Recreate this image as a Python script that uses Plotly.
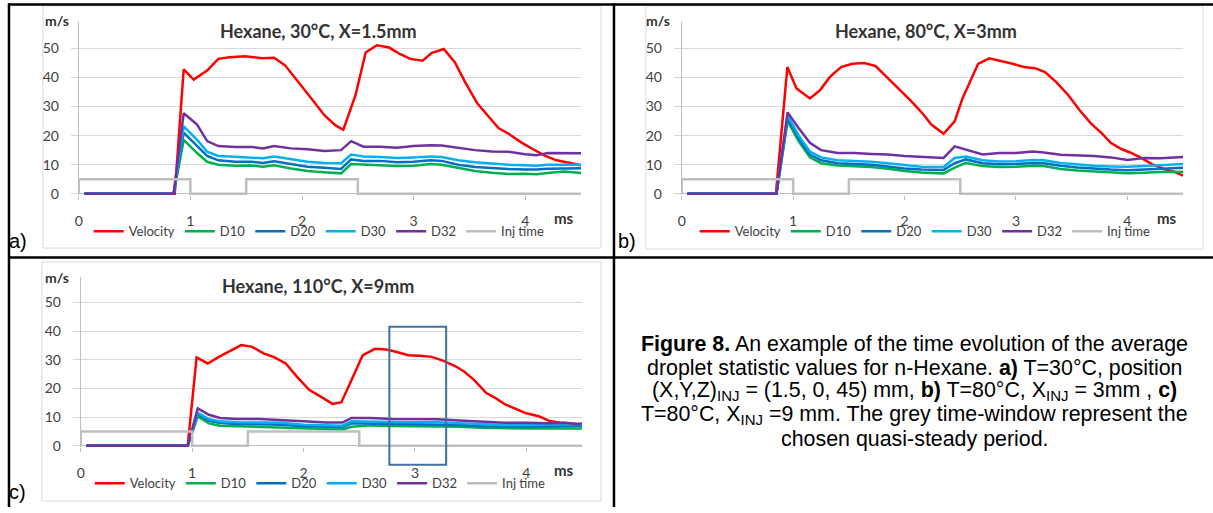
import plotly.graph_objects as go

W, H = 1213, 513

# ---------------- data ----------------
series_names = ["Velocity", "D10", "D20", "D30", "D32", "Inj time"]
series_colors = ["#ff0000", "#00b050", "#0070c0", "#00b0f0", "#7030a0", "#bfbfbf"]
titles = ["Hexane, 30°C, X=1.5mm", "Hexane, 80°C, X=3mm", "Hexane, 110°C, X=9mm"]
x_ticks = [0, 1, 2, 3, 4]
y_ticks = [0, 10, 20, 30, 40, 50]

# injection window (common)
t_inj = [0, 0, 1, 1, 1.5, 1.5, 2.5, 2.5, 4.5]
inj = [0, 5, 5, 0, 0, 5, 5, 0, 0]

# panel a
t_vel_a = [0.05, 0.86, 0.94, 1.03, 1.15, 1.25, 1.35, 1.49, 1.64, 1.75, 1.85, 2.0, 2.1, 2.2, 2.3, 2.37,
           2.48, 2.57, 2.67, 2.78, 2.88, 2.97, 3.08, 3.16, 3.27, 3.37, 3.46, 3.57, 3.67, 3.76, 3.86,
           3.97, 4.07, 4.18, 4.28, 4.41, 4.5]
vel_a = [0, 0, 42.8, 39.3, 42.4, 46.4, 47, 47.3, 46.6, 46.8, 44.1, 37, 32, 27, 23.5, 22,
         34, 48.6, 51.1, 50.3, 48, 46.4, 45.8, 48.4, 49.8, 45.2, 38.5, 31.1, 26.6, 22.6, 20.4,
         17.5, 15.3, 13, 11.5, 10.5, 9.8]
t_d_a = [0.05, 0.85, 0.94, 1.06, 1.15, 1.25, 1.4, 1.55, 1.65, 1.75, 1.9, 2.05, 2.2, 2.35, 2.44,
         2.55, 2.7, 2.85, 3.0, 3.15, 3.25, 3.4, 3.55, 3.7, 3.85, 4.0, 4.1, 4.2, 4.35, 4.5]
d10_a = [0, 0, 18.5, 14, 11, 10, 9.6, 9.7, 9.3, 9.8, 8.7, 7.8, 7.4, 7, 10.2,
         10, 9.9, 9.5, 9.6, 10.2, 10, 8.8, 7.8, 7.2, 6.8, 6.9, 6.7, 7.1, 7.6, 7.1]
d20_a = [0, 0, 21, 16.5, 13, 11.5, 11, 11, 10.6, 11.2, 10.2, 9.3, 8.9, 8.5, 11.8,
         11.3, 11.3, 10.8, 11, 11.5, 11.3, 10, 9.2, 8.8, 8.5, 8.3, 8.3, 8.6, 8.8, 8.8]
d30_a = [0, 0, 23.2, 18.5, 14.5, 13, 12.7, 12.5, 12.2, 12.8, 11.8, 11, 10.6, 10.5, 13.5,
         12.8, 12.6, 12.3, 12.5, 12.8, 12.6, 11.5, 10.8, 10.3, 10, 9.8, 9.6, 10, 10, 10]
d32_a = [0, 0, 27.7, 23.8, 18.1, 16.4, 16.1, 16.1, 15.6, 16.4, 15.6, 15.3, 14.7, 15, 18.1,
         16.2, 16.2, 15.8, 16.4, 16.7, 16.6, 15.8, 15, 14.5, 14.4, 13.6, 13.2, 14, 13.9, 13.9]

# panel b
t_vel_b = [0.05, 0.845, 0.948, 1.03, 1.15, 1.24, 1.33, 1.43, 1.53, 1.64, 1.74, 1.84, 1.95, 2.05,
           2.16, 2.24, 2.35, 2.45, 2.52, 2.59, 2.66, 2.76, 2.86, 2.97, 3.07, 3.17, 3.26, 3.36,
           3.47, 3.57, 3.67, 3.78, 3.85, 3.95, 4.03, 4.12, 4.22, 4.33, 4.43, 4.5]
vel_b = [0, 0, 43.6, 36.2, 32.8, 35.6, 40.2, 43.6, 44.7, 45, 43.9, 40.2, 36.2, 32.2,
         27.7, 23.8, 20.6, 24.9, 32.8, 38.5, 44.7, 46.6, 45.8, 44.7, 43.6, 43.2, 41.9, 38.5,
         33.9, 28.8, 24.3, 20.4, 17.5, 15.3, 14.1, 12.4, 10.2, 8.5, 7.4, 6.2]
t_d_b = [0.05, 0.85, 0.95, 1.05, 1.15, 1.25, 1.4, 1.55, 1.7, 1.85, 2.0, 2.15, 2.35, 2.45,
         2.55, 2.7, 2.85, 3.0, 3.15, 3.25, 3.4, 3.55, 3.7, 3.85, 4.0, 4.15, 4.3, 4.5]
d10_b = [0, 0, 25, 18, 12.5, 10.5, 9.7, 9.5, 9.2, 8.6, 7.8, 7.3, 7, 9,
         10.6, 9.5, 9.2, 9.3, 9.6, 9.5, 8.5, 8, 7.6, 7.3, 7, 7.2, 7.5, 7.6]
d20_b = [0, 0, 26, 19, 13.5, 11.5, 10.5, 10.3, 10, 9.4, 8.7, 8.3, 8.2, 10.5,
         11.8, 10.5, 10.1, 10.2, 10.6, 10.5, 9.6, 9, 8.6, 8.3, 8.1, 8.3, 8.6, 8.9]
d30_b = [0, 0, 27, 20, 14.5, 12.5, 11.5, 11.3, 11, 10.5, 9.8, 9.3, 9.2, 12.3,
         12.8, 11.5, 11.1, 11.2, 11.6, 11.5, 10.6, 10, 9.6, 9.4, 9.3, 9.5, 9.8, 10.2]
d32_b = [0, 0, 28, 22.5, 17.5, 15, 14, 14, 13.7, 13.5, 13, 12.6, 12.3, 16.3,
         15.2, 13.5, 14, 14, 14.5, 14.2, 13.4, 13.3, 13, 12.5, 11.6, 12.3, 12.2, 12.6]

# panel c
t_vel_c = [0.05, 0.96, 1.04, 1.14, 1.24, 1.35, 1.44, 1.54, 1.64, 1.73, 1.84, 1.94, 2.05, 2.15,
           2.26, 2.34, 2.43, 2.53, 2.64, 2.74, 2.83, 2.94, 3.04, 3.15, 3.25, 3.36, 3.44, 3.53,
           3.64, 3.72, 3.81, 3.92, 4.0, 4.11, 4.21, 4.3, 4.41, 4.5]
vel_c = [0, 0, 30.8, 28.7, 31, 33.3, 35.1, 34.5, 32.2, 31, 28.7, 24.1, 19.5, 17.2,
         14.6, 15.2, 23, 31.5, 33.8, 33.6, 32.8, 31.6, 31.4, 31, 29.7, 27.8, 25.9, 23,
         18.4, 16.7, 14.4, 12.6, 11.3, 10.3, 8.6, 8, 7.8, 7.5]
t_d_c = [0.05, 0.96, 1.05, 1.15, 1.25, 1.4, 1.6, 1.8, 2.0, 2.2, 2.35, 2.43, 2.6, 2.8, 3.0,
         3.2, 3.4, 3.6, 3.8, 4.0, 4.2, 4.35, 4.45, 4.5]
d10_c = [0, 0, 10.2, 7.8, 7, 6.8, 6.7, 6.5, 6, 5.8, 5.7, 6.6, 7.1, 6.9, 6.8,
         6.8, 6.6, 6.3, 6.1, 6, 6, 6, 6, 6]
d20_c = [0, 0, 11, 8.7, 7.9, 7.6, 7.5, 7.3, 6.8, 6.6, 6.5, 7.8, 7.7, 7.6, 7.5,
         7.5, 7.2, 6.8, 6.6, 6.6, 6.7, 6.8, 6.9, 7]
d30_c = [0, 0, 11.5, 9.3, 8.5, 8.2, 8.1, 8, 7.3, 7, 7, 8.5, 8.5, 8.3, 8.2,
         8.2, 7.8, 7.5, 7.2, 7.2, 7.2, 7.3, 7.4, 7.5]
d32_c = [0, 0, 13, 10.8, 9.7, 9.3, 9.3, 9, 8.5, 8.1, 8.1, 9.7, 9.7, 9.3, 9.2,
         9.2, 8.8, 8.4, 8, 8, 7.8, 8, 7.5, 7.8]

# highlighted quasi-steady window in panel c (ms, m/s)
hl_t = [2.77, 3.28]
hl_v = [-6.6, 41.5]

caption_lines = [
    "<b>Figure 8.</b> An example of the time evolution of the average",
    "droplet statistic values for n-Hexane. <b>a)</b> T=30°C, position",
    "(X,Y,Z)<sub>INJ</sub> = (1.5, 0, 45) mm, <b>b)</b> T=80°C, X<sub>INJ</sub> = 3mm , <b>c)</b>",
    "T=80°C, X<sub>INJ</sub> =9 mm. The grey time-window represent the",
    "chosen quasi-steady period.",
]

# ---------------- layout helpers ----------------
def fx(px):
    return px / W


def fy(py):
    return 1 - py / H


X_RANGE = [0, 4.5]
Y_RANGE = [-0.6, 59]

# panel geometry in pixels
geo = [
    dict(x0=75, x1=579, yz=196, ppu=2.94, legx=85, legy=234, title=(316, 31), ms=(550, 221), mps=(39, 21),
         lab=("a)", 3, 244), frame=(39, 6, 599, 251)),
    dict(x0=680, x1=1183, yz=196, ppu=2.94, legx=693, legy=234, title=(925, 31), ms=(1155, 221), mps=(642, 21),
         lab=("b)", 614, 244), frame=(644, 6, 1203, 252)),
    dict(x0=77, x1=580, yz=451, ppu=2.9, legx=86, legy=489, title=(315, 289), ms=(550, 476), mps=(39, 281),
         lab=("c)", 3, 498), frame=(38, 265, 599, 507)),
]

panel_data = [
    (t_vel_a, vel_a, t_d_a, [d10_a, d20_a, d30_a, d32_a]),
    (t_vel_b, vel_b, t_d_b, [d10_b, d20_b, d30_b, d32_b]),
    (t_vel_c, vel_c, t_d_c, [d10_c, d20_c, d30_c, d32_c]),
]

TICK_FONT = dict(family="Lato", size=14, color="#404040")
fig = go.Figure()
annotations = []
shapes = []

for i, (g, pdata) in enumerate(zip(geo, panel_data)):
    n = "" if i == 0 else str(i + 1)
    legname = "legend" + n
    t_vel, vel, t_d, ds = pdata
    xs = [t_vel] + [t_d] * 4 + [t_inj]
    ys = [vel] + ds + [inj]
    for name, col, x, y in zip(series_names, series_colors, xs, ys):
        fig.add_trace(go.Scatter(
            x=x, y=y, mode="lines", name=name, legend=legname,
            line=dict(color=col, width=2.5), xaxis="x" + n, yaxis="y" + n,
            hoverinfo="skip",
        ))
    top_px = g["yz"] - Y_RANGE[1] * g["ppu"]
    bot_px = g["yz"] - Y_RANGE[0] * g["ppu"]
    fig.layout["xaxis" + n] = dict(
        domain=[fx(g["x0"]), fx(g["x1"])], range=X_RANGE, anchor="y" + n,
        tickvals=x_ticks, ticks="outside", ticklen=4, tickcolor="#bfbfbf",
        showgrid=False, zeroline=False, showline=False, tickfont=TICK_FONT,
        ticklabelstandoff=9, fixedrange=True,
    )
    fig.layout["yaxis" + n] = dict(
        domain=[fy(bot_px), fy(top_px)], range=Y_RANGE, anchor="x" + n,
        tickvals=y_ticks, ticks="outside", ticklen=7, tickcolor="#d9d9d9",
        showgrid=True, gridcolor="#d9d9d9", gridwidth=1,
        showline=True, linecolor="#bfbfbf", linewidth=1,
        zeroline=True, zerolinecolor="#bfbfbf", zerolinewidth=1,
        tickfont=TICK_FONT, ticklabelstandoff=9, fixedrange=True,
    )
    fig.layout[legname] = dict(
        orientation="h", x=fx(g["legx"]), y=fy(g["legy"]), xanchor="left", yanchor="middle",
        bgcolor="rgba(0,0,0,0)", font=dict(family="Lato", size=13, color="#404040"),
        traceorder="normal", itemclick=False, itemdoubleclick=False,
    )
    # chart-area frame
    fx0, fy0, fx1, fy1 = g["frame"]
    shapes.append(dict(type="rect", xref="paper", yref="paper", x0=fx(fx0), x1=fx(fx1),
                       y0=fy(fy1), y1=fy(fy0), line=dict(color="#d9d9d9", width=1), layer="below"))
    # texts
    annotations.append(dict(text="<b>" + titles[i] + "</b>", x=fx(g["title"][0]), y=fy(g["title"][1]),
                            xref="paper", yref="paper", showarrow=False, xanchor="center", yanchor="middle",
                            font=dict(family="Lato", size=18, color="#333333")))
    annotations.append(dict(text="<b>m/s</b>", x=fx(g["mps"][0]), y=fy(g["mps"][1]),
                            xref="paper", yref="paper", showarrow=False, xanchor="left", yanchor="middle",
                            font=dict(family="Lato", size=14, color="#333333")))
    annotations.append(dict(text="<b>ms</b>", x=fx(g["ms"][0]), y=fy(g["ms"][1]),
                            xref="paper", yref="paper", showarrow=False, xanchor="left", yanchor="middle",
                            font=dict(family="Lato", size=15, color="#333333")))
    lab, lx, ly = g["lab"]
    annotations.append(dict(text=lab, x=fx(lx), y=fy(ly), xref="paper", yref="paper", showarrow=False,
                            xanchor="left", yanchor="middle",
                            font=dict(family="Liberation Sans", size=20, color="#000000")))

# highlight rectangle in panel c, converted into that axis' domain fractions
shapes.append(dict(
    type="rect", xref="x3 domain", yref="y3 domain",
    x0=(hl_t[0] - X_RANGE[0]) / (X_RANGE[1] - X_RANGE[0]),
    x1=(hl_t[1] - X_RANGE[0]) / (X_RANGE[1] - X_RANGE[0]),
    y0=(hl_v[0] - Y_RANGE[0]) / (Y_RANGE[1] - Y_RANGE[0]),
    y1=(hl_v[1] - Y_RANGE[0]) / (Y_RANGE[1] - Y_RANGE[0]),
    line=dict(color="#41719c", width=2), layer="above",
))

# table borders
BLACK = dict(color="#000000", width=2.5)
shapes.append(dict(type="line", xref="paper", yref="paper", x0=fx(4), x1=1, y0=fy(4.5), y1=fy(4.5), line=BLACK))
shapes.append(dict(type="line", xref="paper", yref="paper", x0=fx(5), x1=fx(5), y0=0, y1=fy(3.5), line=BLACK))
shapes.append(dict(type="line", xref="paper", yref="paper", x0=fx(612), x1=fx(612), y0=0, y1=fy(3.5), line=BLACK))
shapes.append(dict(type="line", xref="paper", yref="paper", x0=fx(4), x1=1, y0=fy(260.5), y1=fy(260.5), line=BLACK))

# caption
cap_y = [348, 372, 396, 420, 444]
for line, yy in zip(caption_lines, cap_y):
    annotations.append(dict(text=line, x=fx(914), y=fy(yy), xref="paper", yref="paper", showarrow=False,
                            xanchor="center", yanchor="middle",
                            font=dict(family="Liberation Sans", size=21.4, color="#000000")))

fig.update_layout(
    width=W, height=H, margin=dict(l=0, r=0, t=0, b=0),
    paper_bgcolor="white", plot_bgcolor="white",
    shapes=shapes, annotations=annotations,
)

fig.write_html("out.html", config={"displayModeBar": False},
               post_script="document.body.style.margin='0px';")
